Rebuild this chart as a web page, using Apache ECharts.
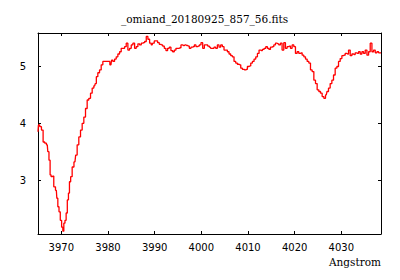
<!DOCTYPE html>
<html><head><meta charset="utf-8">
<script src="https://cdn.jsdelivr.net/npm/echarts@6/dist/echarts.min.js"></script>
<style>html,body{margin:0;padding:0;background:#fff}#c{width:400px;height:280px}</style>
</head><body><div id="c"></div>
<script>
var titleText = "_omiand_20180925_857_56.fits";
var xLabel = "Angstrom";
var xTicks = [3970, 3980, 3990, 4000, 4010, 4020, 4030];
var yTicks = [3, 4, 5];
var wavelength = [3965.0,3965.19,3965.56,3965.92,3966.27,3966.63,3966.99,3967.21,3967.49,3967.70,3967.92,3968.20,3968.56,3968.93,3969.14,3969.36,3969.64,3969.91,3970.21,3970.43,3970.64,3970.92,3971.14,3971.42,3971.63,3971.85,3972.15,3972.49,3972.92,3973.22,3973.56,3973.93,3974.29,3974.64,3975.0,3975.36,3975.71,3976.07,3976.44,3976.78,3977.15,3977.36,3977.64,3978.0,3978.37,3978.71,3979.08,3979.44,3979.79,3980.15,3980.64,3980.86,3981.22,3981.59,3981.93,3982.30,3982.66,3983.0,3983.37,3983.73,3984.08,3984.44,3984.81,3985.15,3985.52,3985.88,3986.22,3986.59,3986.95,3987.30,3987.66,3988.03,3988.37,3988.73,3989.10,3989.44,3989.74,3990.09,3990.45,3990.82,3991.16,3991.52,3991.89,3992.23,3992.60,3992.96,3993.30,3993.67,3994.03,3994.38,3994.74,3995.11,3995.45,3995.82,3996.18,3996.52,3996.89,3997.25,3997.60,3997.96,3998.33,3998.67,3999.03,3999.40,3999.74,4000.11,4000.47,4000.82,4001.18,4001.55,4001.89,4002.19,4002.53,4002.90,4003.26,4003.61,4003.97,4004.33,4004.68,4005.04,4005.41,4005.75,4006.12,4006.48,4006.82,4007.19,4007.55,4007.90,4008.26,4008.63,4008.97,4009.33,4009.70,4010.04,4010.41,4010.77,4011.12,4011.48,4011.85,4012.19,4012.55,4012.92,4013.26,4013.63,4013.99,4014.33,4014.64,4014.98,4015.34,4015.71,4016.05,4016.42,4016.78,4017.12,4017.49,4017.85,4018.20,4018.56,4018.93,4019.27,4019.64,4020.0,4020.34,4020.71,4021.07,4021.42,4021.78,4022.15,4022.49,4022.86,4023.22,4023.56,4023.93,4024.29,4024.64,4025.0,4025.36,4025.71,4026.07,4026.44,4026.78,4027.08,4027.42,4027.79,4028.15,4028.50,4028.86,4029.23,4029.57,4029.94,4030.30,4030.64,4031.01,4031.37,4031.72,4032.08,4032.45,4032.79,4033.15,4033.52,4033.86,4034.23,4034.59,4034.94,4035.30,4035.67,4036.01,4036.37,4036.74,4037.08,4037.45,4037.81,4038.15,4038.5];
var flux = [3.85,3.97,3.94,3.88,3.67,3.65,3.62,3.50,3.35,3.09,3.06,3.07,2.88,2.82,2.68,2.53,2.44,2.29,2.17,2.10,2.24,2.29,2.42,2.65,2.77,2.97,3.06,3.23,3.32,3.44,3.62,3.76,3.88,4.00,4.11,4.26,4.41,4.44,4.53,4.62,4.66,4.70,4.82,4.89,4.94,5.03,5.09,5.09,5.09,5.09,5.03,5.11,5.09,5.13,5.17,5.22,5.26,5.32,5.32,5.35,5.41,5.29,5.32,5.38,5.41,5.32,5.35,5.40,5.38,5.41,5.42,5.44,5.53,5.48,5.41,5.38,5.41,5.45,5.45,5.42,5.39,5.38,5.36,5.32,5.28,5.32,5.34,5.28,5.26,5.29,5.32,5.32,5.33,5.38,5.37,5.38,5.37,5.36,5.32,5.34,5.35,5.38,5.35,5.36,5.38,5.42,5.32,5.38,5.38,5.36,5.34,5.32,5.32,5.34,5.32,5.38,5.34,5.38,5.35,5.29,5.29,5.26,5.22,5.19,5.17,5.09,5.06,5.04,5.03,4.97,4.95,4.94,4.95,5.00,5.01,5.06,5.09,5.13,5.17,5.23,5.29,5.28,5.30,5.32,5.35,5.32,5.30,5.34,5.35,5.38,5.41,5.40,5.38,5.41,5.29,5.42,5.32,5.35,5.36,5.32,5.38,5.35,5.23,5.26,5.23,5.24,5.20,5.17,5.13,5.09,5.06,4.94,4.91,4.76,4.70,4.59,4.56,4.53,4.47,4.44,4.50,4.56,4.62,4.70,4.76,4.85,4.97,5.00,5.09,5.14,5.19,5.20,5.23,5.22,5.29,5.19,5.22,5.21,5.24,5.23,5.26,5.22,5.26,5.23,5.29,5.20,5.26,5.41,5.26,5.29,5.24,5.26,5.24,5.24];

var pts = wavelength.map(function (w, i) { return [w, flux[i]]; });
var XMIN = 3965, XMAX = 4038.5, YMIN = 2.05, YMAX = 5.59;
var lineStyle = { color: '#000', width: 1 };
function fmt(v) { return String(v); }
function xa(pos, show) {
  return { type: 'value', position: pos, min: XMIN, max: XMAX,
    axisLine: { show: true, onZero: false, lineStyle: lineStyle },
    axisTick: { show: true, inside: true, length: 3, lineStyle: lineStyle, customValues: xTicks },
    axisLabel: { show: show, margin: 8, customValues: xTicks, formatter: fmt, fontFamily: 'DejaVu Sans', fontSize: 10, color: '#000' },
    splitLine: { show: false } };
}
function ya(pos, show) {
  return { type: 'value', position: pos, min: YMIN, max: YMAX,
    axisLine: { show: true, onZero: false, lineStyle: lineStyle },
    axisTick: { show: true, inside: true, length: 3, lineStyle: lineStyle, customValues: yTicks },
    axisLabel: { show: show, margin: 12, customValues: yTicks, formatter: fmt, fontFamily: 'DejaVu Sans', fontSize: 10, color: '#000' },
    splitLine: { show: false } };
}
var chart = echarts.init(document.getElementById('c'), null, { renderer: 'svg' });
chart.setOption({
  animation: false,
  grid: { left: 38, right: 19, top: 33, bottom: 46 },
  xAxis: [xa('bottom', true), xa('top', false)],
  yAxis: [ya('left', true), ya('right', false)],
  graphic: [
    { type: 'text', left: 121, top: 13, style: { text: titleText, font: '10.5px "DejaVu Serif"', fill: '#000' } },
    { type: 'text', right: 19, top: 256, style: { text: xLabel, font: '10.5px "DejaVu Serif"', fill: '#000' } }
  ],
  series: [{ type: 'line', data: pts, showSymbol: false, step: 'middle',
    lineStyle: { color: '#ff0000', width: 1.3 }, clip: true }]
});
</script></body></html>
